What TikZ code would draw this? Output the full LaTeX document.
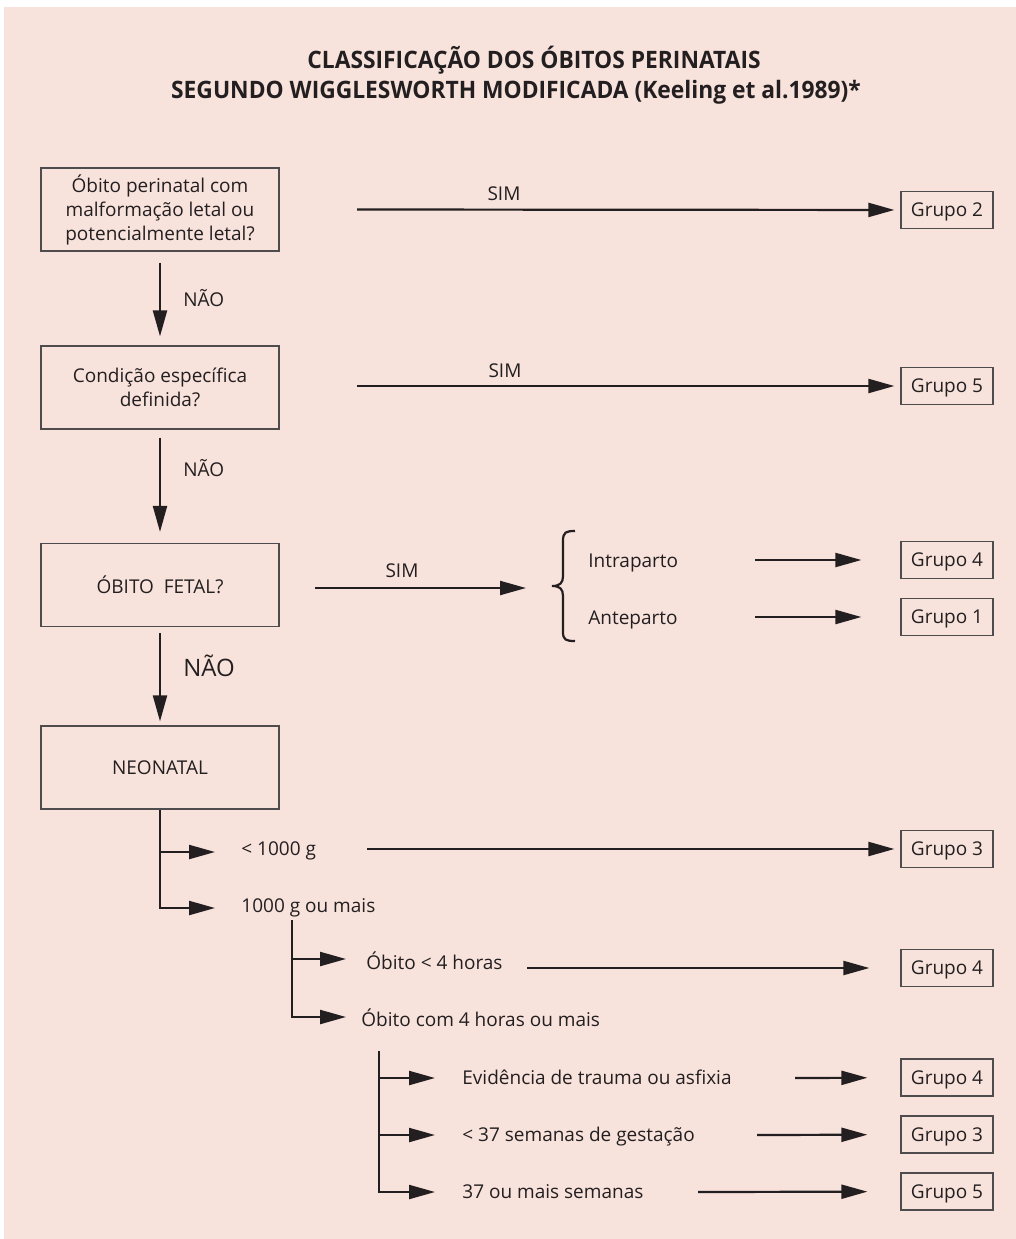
\documentclass[tikz,border=0pt]{standalone}
\usepackage{fontspec}
\setmainfont{Open Sans}
\newfontfamily\titlefont{Open Sans}[FakeStretch=0.95]
\usetikzlibrary{arrows.meta}
\definecolor{fundo}{RGB}{248,226,220}
\definecolor{traco}{RGB}{35,31,32}

\begin{document}
\begin{tikzpicture}[x=0.5pt,y=-0.5pt,color=traco,
  caixa/.style={draw=traco!80, line width=0.6pt, minimum width=119pt, minimum height=41.5pt, inner sep=0pt, align=center, font=\fontsize{9.5}{12}\selectfont},
  grupo/.style={draw=traco!80, line width=0.6pt, minimum width=46pt, minimum height=18.5pt, inner sep=0pt, text height=8.3pt, text depth=1.7pt, font=\fontsize{9.5}{11}\selectfont},
  rotulo/.style={anchor=west, inner sep=0pt, text height=8.3pt, text depth=1.7pt, font=\fontsize{9.5}{11}\selectfont},
  titulo/.style={anchor=base, inner sep=0pt, font=\titlefont\bfseries\fontsize{12}{15}\selectfont},
  seta/.style={draw=traco, line width=1.1pt, -{Triangle[length=13pt,width=7pt]}},
  linha/.style={draw=traco, line width=1.1pt}]

\fill[white] (0,0) rectangle (1016,1239);
\fill[fundo] (4,7) rectangle (1016,1239);
\useasboundingbox (0,0) rectangle (1016,1239);

\node[titulo] (titulo1) at (534,68) {CLASSIFICAÇÃO DOS ÓBITOS PERINATAIS};
\node[titulo] (titulo2) at (516,98) {SEGUNDO WIGGLESWORTH MODIFICADA (Keeling et al.1989)*};

\node[caixa] (perinatal) at (160,209.5) {Óbito perinatal com\\malformação letal ou\\potencialmente letal?};
\node[caixa] (condicao) at (160,387.5) {Condição específica\\definida?};
\node[caixa] (fetal) at (160,585) {ÓBITO\ \ FETAL?};
\node[caixa] (neonatal) at (160,767.5) {NEONATAL};

\node[grupo] (g2) at (947,210) {Grupo 2};
\node[grupo] (g5a) at (947,386) {Grupo 5};
\node[grupo] (g4a) at (947,560) {Grupo 4};
\node[grupo] (g1) at (947,617) {Grupo 1};
\node[grupo] (g3a) at (947,849) {Grupo 3};
\node[grupo] (g4b) at (947,968) {Grupo 4};
\node[grupo] (g4c) at (947,1077.5) {Grupo 4};
\node[grupo] (g3b) at (947,1134.5) {Grupo 3};
\node[grupo] (g5b) at (947,1191.5) {Grupo 5};

\node[rotulo, anchor=center] (sim1) at (504,194) {SIM};
\node[rotulo, anchor=center] (sim2) at (505,371) {SIM};
\node[rotulo, anchor=center] (sim3) at (402,571) {SIM};
\node[rotulo] (nao1) at (183,300) {NÃO};
\node[rotulo] (nao2) at (183,470) {NÃO};
\node[rotulo, font=\fontsize{12}{14}\selectfont, text height=10.5pt, text depth=2pt] (nao3) at (183,668) {NÃO};

\node[rotulo] (intra) at (588,561) {Intraparto};
\node[rotulo] (ante) at (588,618) {Anteparto};
\node[rotulo] (menos1000) at (241,849) {< 1000 g};
\node[rotulo] (mais1000) at (241,906) {1000 g ou mais};
\node[rotulo] (menos4h) at (366,963) {Óbito < 4 horas};
\node[rotulo] (mais4h) at (361,1020) {Óbito com 4 horas ou mais};
\node[rotulo] (trauma) at (462,1078) {Evidência de trauma ou asfixia};
\node[rotulo] (menos37) at (462,1135) {< 37 semanas de gestação};
\node[rotulo] (mais37) at (462,1192) {37 ou mais semanas};

\draw[seta, shorten <=5.5pt, shorten >=4.5pt] (perinatal) -- (condicao);
\draw[seta, shorten <=4pt, shorten >=5.5pt] (condicao) -- (fetal);
\draw[seta, shorten <=3pt, shorten >=2pt] (fetal) -- (neonatal);

\coordinate (s1) at (357,209.5);
\coordinate (s2) at (357,386);
\coordinate (sF) at (315,588);
\coordinate (fimF) at (526,588);
\draw[seta, shorten >=3pt] (s1) -- (g2);
\draw[seta, shorten >=3pt] (s2) -- (g5a);
\draw[seta] (sF) -- (fimF);

\draw[linha] (575,531) .. controls (566,531) and (563,532) .. (563,541) -- (563,576) .. controls (563,583) and (560,586) .. (552,586) .. controls (560,586) and (563,589) .. (563,596) -- (563,632) .. controls (563,640) and (566,641) .. (575,641);

\coordinate (i0) at (755,560);
\coordinate (a0) at (755,617);
\draw[seta, shorten >=19.5pt] (i0) -- (g4a);
\draw[seta, shorten >=19.5pt] (a0) -- (g1);

\coordinate (b1) at (215,852);
\coordinate (b2) at (215,908);
\draw[seta] (neonatal.south) |- (b1);
\draw[seta] (neonatal.south) |- (b2);
\coordinate (c0) at (367,849);
\draw[seta, shorten >=3pt] (c0) -- (g3a);

\coordinate (r2) at (292,920);
\coordinate (b3) at (346,959);
\coordinate (b4) at (346,1017);
\draw[seta] (r2) |- (b3);
\draw[seta] (r2) |- (b4);
\coordinate (h0) at (527,968);
\draw[seta, shorten >=15.5pt] (h0) -- (g4b);

\coordinate (r3) at (379,1051);
\coordinate (b5) at (435,1078);
\coordinate (b6) at (435,1135);
\coordinate (b7) at (435,1192);
\draw[seta] (r3) |- (b5);
\draw[seta] (r3) |- (b6);
\draw[seta] (r3) |- (b7);
\coordinate (t0) at (795,1078);
\coordinate (m0) at (757,1135);
\coordinate (e0) at (698,1192);
\draw[seta, shorten >=16.5pt] (t0) -- (g4c);
\draw[seta, shorten >=16.5pt] (m0) -- (g3b);
\draw[seta, shorten >=16.5pt] (e0) -- (g5b);
\end{tikzpicture}
\end{document}
